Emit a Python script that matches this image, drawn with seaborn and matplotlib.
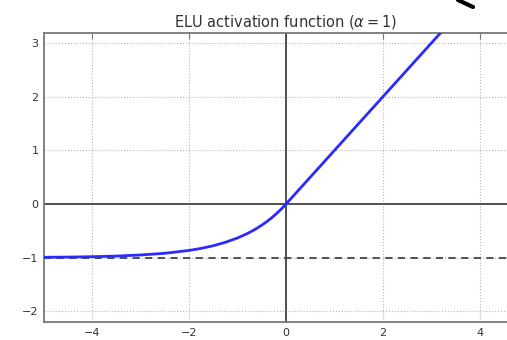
import matplotlib
matplotlib.use("Agg")
import matplotlib.pyplot as plt
import seaborn as sns
import pandas as pd
from matplotlib.lines import Line2D

# Data
z_vals = [-5.0, -4.5, -4.0, -3.5, -3.0, -2.5, -2.0, -1.75, -1.5, -1.25, -1.0,
          -0.8, -0.7, -0.6, -0.5, -0.4, -0.3, -0.2, -0.1, 0.0, 5.0]
elu_vals = [-0.993, -0.989, -0.982, -0.970, -0.950, -0.918, -0.865, -0.826,
            -0.777, -0.713, -0.632, -0.551, -0.503, -0.451, -0.393, -0.330,
            -0.259, -0.181, -0.095, 0.0, 5.0]
x_ticks = [-4, -2, 0, 2, 4]
y_ticks = [-2, -1, 0, 1, 2, 3]
x_lim = [-5, 5]
y_lim = [-2.2, 3.2]
title = r"ELU activation function ($\alpha=1$)"

df = pd.DataFrame({"z": z_vals, "elu": elu_vals})

sns.set_style("white")
plt.rcParams['font.family'] = ['DejaVu Sans']

fig = plt.figure(figsize=(5.07, 3.40), dpi=100)
ax = fig.add_axes([44 / 507, 18 / 340, (528 - 44) / 507, (322 - 32.5) / 340])

ax.plot(x_lim, [0, 0], color="#444444", lw=1.3)
ax.plot([0, 0], y_lim, color="#444444", lw=1.3)
ax.plot(x_lim, [-1, -1], color="#444444", lw=1.3, ls=(0, (4, 3)))
sns.lineplot(data=df, x="z", y="elu", ax=ax, color="#2a2aff", lw=2, zorder=5)

ax.set_xlim(x_lim)
ax.set_ylim(y_lim)
ax.set_xticks(x_ticks)
ax.set_yticks(y_ticks)
ax.set_xlabel("")
ax.set_ylabel("")
ax.grid(True, color="#b5b5b5", ls=":", lw=0.8)
ax.tick_params(direction="in", top=True, right=True, length=4, width=0.8,
               color="#777777", labelsize=8, labelcolor="#333333", pad=4)
for s in ax.spines.values():
    s.set_color("#777777")
    s.set_linewidth(1.3)
ax.set_title(title, fontsize=10.5, color="#333333", pad=4)

# black stroke fragment at the top right
fig.add_artist(Line2D([458 / 507, 473 / 507], [1 - 0 / 340, 1 - 7 / 340],
                      color="black", lw=3, solid_capstyle="round",
                      transform=fig.transFigure))

fig.savefig("out.png", dpi=100)
